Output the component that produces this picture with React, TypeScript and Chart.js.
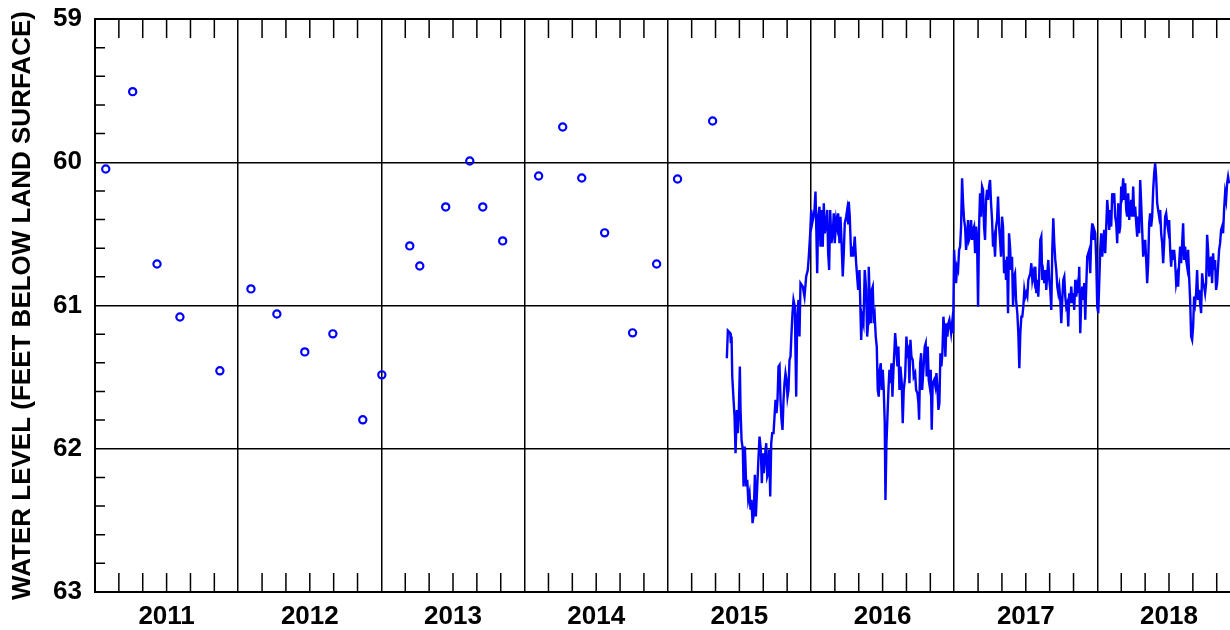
import React, { useEffect, useRef } from "react";
import { Chart, registerables } from "chart.js";

Chart.register(...registerables);

// Axis ticks
const YEAR_TICKS = [2011, 2012, 2013, 2014, 2015, 2016, 2017, 2018];
const LEVEL_TICKS = [59, 60, 61, 62, 63];
const X_MIN = 2011;
const X_MAX = 2018.926;

// Periodic (discrete) measurements, decimal year / feet below land surface
const MEAS_YEARS = [
  2011.075, 2011.263, 2011.433, 2011.593, 2011.872, 2012.089, 2012.27, 2012.465, 2012.661, 2012.87,
  2013.003, 2013.198, 2013.268, 2013.449, 2013.617, 2013.708, 2013.847, 2014.098, 2014.266, 2014.399,
  2014.559, 2014.754, 2014.922, 2015.068, 2015.313,
];
const MEAS_LEVELS = [
  60.047, 59.507, 60.71, 61.08, 61.456, 60.884, 61.059, 61.324, 61.198, 61.798,
  61.484, 60.584, 60.724, 60.312, 59.991, 60.312, 60.549, 60.096, 59.754, 60.11,
  60.493, 61.191, 60.71, 60.117, 59.712,
];

// Continuous recorder, part 1 (2015-2016)
const REC_YEARS_A = [
  2015.4124, 2015.4194, 2015.4264, 2015.4361, 2015.4403, 2015.4452, 2015.4501, 2015.4592, 2015.4662, 2015.4731,
  2015.4822, 2015.4892, 2015.4962, 2015.5032, 2015.508, 2015.515, 2015.5241, 2015.529, 2015.5381, 2015.5479,
  2015.5548, 2015.5618, 2015.5709, 2015.5778, 2015.5848, 2015.5918, 2015.6009, 2015.6079, 2015.6148, 2015.6246,
  2015.6337, 2015.6406, 2015.6497, 2015.6567, 2015.6637, 2015.6706, 2015.6804, 2015.6874, 2015.6944, 2015.7013,
  2015.7083, 2015.7153, 2015.7223, 2015.7292, 2015.7383, 2015.7453, 2015.7523, 2015.7592, 2015.7662, 2015.7732,
  2015.7802, 2015.7871, 2015.7941, 2015.8011, 2015.8081, 2015.815, 2015.822, 2015.829, 2015.836, 2015.8429,
  2015.8499, 2015.8569, 2015.8639, 2015.8708, 2015.8778, 2015.8869, 2015.8967, 2015.9036, 2015.9127, 2015.9197,
  2015.9267, 2015.9427, 2015.9546, 2015.9664, 2015.9776, 2015.9846, 2015.9944, 2016.0013, 2016.0083, 2016.0174,
  2016.0244, 2016.0313, 2016.0362, 2016.0432, 2016.0502, 2016.0592, 2016.0662, 2016.0732, 2016.0823, 2016.0893,
  2016.0962, 2016.106, 2016.113, 2016.1199, 2016.1269, 2016.1339, 2016.143, 2016.1521, 2016.159, 2016.166,
  2016.1758, 2016.1828, 2016.1897, 2016.1988, 2016.2058, 2016.2128, 2016.2218, 2016.2288, 2016.2358, 2016.2456,
  2016.2525, 2016.2595, 2016.2637, 2016.2707, 2016.2804, 2016.2874, 2016.2944, 2016.3056, 2016.3153, 2016.3223,
  2016.3293,
];
const REC_LEVELS_A = [
  61.368, 61.175, 61.182, 61.193, 61.263, 61.217, 61.496, 61.659, 61.775, 62.031,
  61.729, 61.891, 61.729, 61.426, 61.729, 61.938, 62.008, 62.264, 61.985, 62.264,
  62.217, 62.357, 62.31, 62.426, 62.357, 62.519, 62.449, 62.182, 62.473, 62.264,
  62.054, 61.915, 62.008, 62.24, 62.031, 62.17, 62.031, 61.961, 62.194, 62.17,
  62.008, 62.334, 61.961, 61.891, 61.891, 61.775, 61.659, 61.752, 61.659, 61.426,
  61.415, 61.659, 61.798, 61.868, 61.659, 61.542, 61.472, 61.519, 61.636, 61.589,
  61.38, 61.357, 61.193, 61.054, 60.961, 61.008, 61.636, 61.078, 60.961, 61.217,
  60.844, 60.868, 60.938, 60.798, 60.752, 60.659, 60.496, 60.333, 60.426, 60.38,
  60.333, 60.205, 60.426, 60.775, 60.38, 60.31, 60.589, 60.333, 60.589, 60.286,
  60.496, 60.426, 60.333, 60.635, 60.752, 60.333, 60.565, 60.496, 60.356, 60.565,
  60.403, 60.449, 60.356, 60.565, 60.38, 60.542, 60.798, 60.635, 60.426, 60.38,
  60.333, 60.426, 60.275, 60.38, 60.659, 60.589, 60.659, 60.519, 60.705, 60.798,
  60.891,
];

// Continuous recorder, part 2 (2016)
const REC_YEARS_B = [
  2016.3384, 2016.3503, 2016.3573, 2016.3663, 2016.3754, 2016.3852, 2016.3922, 2016.3991, 2016.4033, 2016.4103,
  2016.4173, 2016.4243, 2016.4313, 2016.4382, 2016.4452, 2016.4522, 2016.4592, 2016.4662, 2016.4731, 2016.4801,
  2016.4871, 2016.4941, 2016.5011, 2016.508, 2016.515, 2016.5199, 2016.5269, 2016.5339, 2016.5408, 2016.5478,
  2016.5548, 2016.5618, 2016.5687, 2016.5757, 2016.5827, 2016.5876, 2016.5967, 2016.6036, 2016.6106, 2016.6176,
  2016.6246, 2016.6337, 2016.6406, 2016.6476, 2016.6574, 2016.6664, 2016.6734, 2016.6804, 2016.6874, 2016.6944,
  2016.7013, 2016.7104, 2016.7174, 2016.7272, 2016.7341, 2016.7432, 2016.7502, 2016.7551, 2016.7621, 2016.769,
  2016.776, 2016.7851, 2016.7941, 2016.8011, 2016.8081, 2016.8151, 2016.8221, 2016.829, 2016.836, 2016.843,
  2016.85, 2016.8597, 2016.8688, 2016.8758, 2016.8827, 2016.8897, 2016.8967, 2016.9037, 2016.9106, 2016.9176,
  2016.9246, 2016.9316, 2016.9385, 2016.9455, 2016.9525, 2016.9595,
];
const REC_LEVELS_B = [
  60.752, 61.24, 61.078, 61.124, 60.752, 60.891, 61.217, 61.124, 60.729, 60.961,
  61.124, 60.891, 60.868, 61.124, 61.078, 61.217, 61.287, 61.589, 61.636, 61.449,
  61.403, 61.589, 61.449, 61.589, 61.821, 62.357, 61.961, 61.775, 61.589, 61.449,
  61.542, 61.403, 61.636, 61.449, 61.31, 61.193, 61.31, 61.426, 61.287, 61.589,
  61.426, 61.542, 61.821, 61.589, 61.496, 61.217, 61.333, 61.31, 61.542, 61.24,
  61.357, 61.38, 61.496, 61.472, 61.589, 61.612, 61.682, 61.798, 61.403, 61.333,
  61.589, 61.449, 61.287, 61.263, 61.496, 61.287, 61.519, 61.566, 61.449, 61.868,
  61.542, 61.519, 61.566, 61.472, 61.566, 61.729, 61.682, 61.333, 61.426, 61.333,
  61.078, 61.17, 61.357, 61.124, 61.217, 61.124,
];

// Continuous recorder, part 3 (2017 - 2018)
const REC_YEARS_C = [
  2016.9665, 2016.9784, 2016.9853, 2016.9923, 2016.9993, 2017.0063, 2017.0133, 2017.0202, 2017.0272, 2017.0342,
  2017.0412, 2017.0481, 2017.0551, 2017.0621, 2017.0691, 2017.076, 2017.083, 2017.09, 2017.097, 2017.1039,
  2017.1109, 2017.1179, 2017.1249, 2017.1318, 2017.1388, 2017.1458, 2017.1528, 2017.1597, 2017.1667, 2017.1737,
  2017.1807, 2017.1876, 2017.1946, 2017.2016, 2017.2086, 2017.2155, 2017.2225, 2017.2295, 2017.2365, 2017.2434,
  2017.2504, 2017.2574, 2017.2644, 2017.2713, 2017.2783, 2017.2853, 2017.2923, 2017.2992, 2017.3062, 2017.3132,
  2017.3202, 2017.3271, 2017.3341, 2017.3411, 2017.3481, 2017.355, 2017.362, 2017.369, 2017.376, 2017.3829,
  2017.3899, 2017.3969, 2017.4039, 2017.4108, 2017.4178, 2017.4248, 2017.4318,
  2017.4408, 2017.4478, 2017.4548, 2017.4618, 2017.4688, 2017.4757, 2017.4827, 2017.4897, 2017.4967, 2017.5036,
  2017.5106, 2017.5176, 2017.5246, 2017.5315, 2017.5385, 2017.5455, 2017.5525, 2017.5594, 2017.5664, 2017.5734,
  2017.5804, 2017.5873, 2017.5943, 2017.6013, 2017.6083, 2017.6152, 2017.6222, 2017.6292, 2017.6362, 2017.6431,
  2017.6501, 2017.6571, 2017.6641, 2017.671, 2017.678, 2017.685, 2017.692, 2017.6989, 2017.7059, 2017.7129,
  2017.7199, 2017.7268, 2017.7338, 2017.7408, 2017.7478, 2017.7547, 2017.7617, 2017.7687, 2017.7757, 2017.7826,
  2017.7896, 2017.7966, 2017.8036, 2017.8105, 2017.8175, 2017.8245, 2017.8315, 2017.8384, 2017.8454, 2017.8524,
  2017.8594, 2017.8663, 2017.8733, 2017.8803, 2017.8873, 2017.8942, 2017.9012, 2017.9082, 2017.9152, 2017.9221,
  2017.9291, 2017.9361, 2017.9431, 2017.95, 2017.957, 2017.964, 2017.971, 2017.978, 2017.9849, 2017.9919,
  2017.9989, 2018.0059, 2018.0128, 2018.0198, 2018.0268, 2018.0338, 2018.0407, 2018.0477, 2018.0547, 2018.0617,
  2018.0686, 2018.0756, 2018.0826, 2018.0896, 2018.0965, 2018.1035, 2018.1105, 2018.1175, 2018.1244, 2018.1314,
  2018.1384, 2018.1454, 2018.1523, 2018.1593, 2018.1663, 2018.1733, 2018.1802, 2018.1872, 2018.1942, 2018.2012,
  2018.2081, 2018.2151, 2018.2221, 2018.2291, 2018.236, 2018.243, 2018.25, 2018.257, 2018.264, 2018.2709,
  2018.2779, 2018.2849, 2018.2919, 2018.2988, 2018.3058, 2018.3128, 2018.3198, 2018.3267, 2018.3337, 2018.3407,
  2018.3477, 2018.3546, 2018.3616, 2018.3686, 2018.3756, 2018.3825, 2018.3895, 2018.3965, 2018.4035, 2018.4104,
  2018.4174, 2018.4244, 2018.4314, 2018.4383, 2018.4453, 2018.4523, 2018.4593, 2018.4662, 2018.4732, 2018.4802,
  2018.4872, 2018.4941, 2018.5011, 2018.5081, 2018.5151, 2018.522, 2018.529, 2018.536, 2018.543, 2018.5499,
  2018.5569, 2018.5639, 2018.5709, 2018.5778, 2018.5848, 2018.5918, 2018.5988, 2018.6057, 2018.6127, 2018.6197,
  2018.6267, 2018.6336, 2018.6406, 2018.6476, 2018.6546, 2018.6615, 2018.6685, 2018.6755, 2018.6825, 2018.6894,
  2018.6964, 2018.7034, 2018.7104, 2018.7173, 2018.7243, 2018.7313, 2018.7383, 2018.7452, 2018.7522, 2018.7592,
  2018.7662, 2018.7731, 2018.7801, 2018.7871, 2018.7941, 2018.801, 2018.808, 2018.815, 2018.822, 2018.8289,
  2018.8359, 2018.8429, 2018.8499, 2018.8568, 2018.8638, 2018.8708, 2018.8778, 2018.8847, 2018.8917, 2018.8987,
  2018.9057, 2018.9126, 2018.9196,
];
const REC_LEVELS_C = [
  61.1, 61.193, 61.124, 61.193, 60.612, 60.752, 60.844, 60.729, 60.752, 60.612,
  60.589, 60.449, 60.112, 60.286, 60.403, 60.449, 60.612, 60.542, 60.403, 60.542,
  60.519, 60.403, 60.542, 60.472, 60.449, 60.635, 60.449, 60.542, 61.008, 60.449,
  60.216, 60.38, 60.17, 60.193, 60.449, 60.542, 60.263, 60.193, 60.263, 60.17,
  60.124, 60.286, 60.403, 60.589, 60.542, 60.659, 60.449, 60.403, 60.24, 60.449,
  60.542, 60.659, 60.38, 60.449, 60.775, 60.682, 60.821, 60.659, 61.054, 60.496,
  60.589, 60.752, 60.659, 61.008, 60.798, 60.775, 60.961,
  61.054, 61.193, 61.438, 61.193, 61.078, 61.078, 61.008, 60.891, 60.938, 60.914,
  60.938, 60.821, 60.798, 60.775, 60.705, 60.821, 60.775, 60.821, 60.729, 60.914,
  60.821, 60.938, 60.775, 60.542, 60.519, 60.821, 60.775, 60.844, 60.752, 60.891,
  60.775, 60.682, 60.821, 60.891, 61.031, 60.612, 60.391, 60.565, 60.682, 60.752,
  60.868, 60.914, 60.868, 60.961, 61.124, 60.961, 60.821, 60.798, 60.938, 61.008,
  60.984, 61.147, 60.914, 60.984, 60.868, 60.984, 60.914, 61.031, 60.821, 60.938,
  60.868, 60.914, 60.729, 61.193, 60.961, 60.868, 60.961, 60.844, 61.1, 60.868,
  60.659, 60.635, 60.612, 60.775, 60.519, 60.426, 60.542, 60.472, 60.496, 60.682,
  61.008, 61.054, 60.844, 60.612, 60.496, 60.659, 60.565, 60.472, 60.635, 60.449,
  60.263, 60.356, 60.472, 60.333, 60.449, 60.216, 60.286, 60.216, 60.38, 60.426,
  60.565, 60.286, 60.496, 60.449, 60.17, 60.216, 60.112, 60.263, 60.147, 60.333,
  60.38, 60.216, 60.403, 60.333, 60.263, 60.38, 60.17, 60.38, 60.31, 60.426,
  60.519, 60.38, 60.496, 60.124, 60.286, 60.472, 60.659, 60.589, 60.542, 60.682,
  60.844, 60.705, 60.426, 60.356, 60.449, 60.38, 60.193, 60.077, 60.007, 60.101,
  60.286, 60.333, 60.38, 60.333, 60.496, 60.565, 60.705, 60.565, 60.38, 60.356,
  60.426, 60.472, 60.403, 60.612, 60.729, 60.612, 60.682, 60.612, 60.705, 60.844,
  60.798, 60.868, 60.705, 60.589, 60.705, 60.565, 60.426, 60.682, 60.589, 60.682,
  60.729, 60.612, 60.798, 60.961, 61.217, 61.24, 61.147, 60.938, 60.984, 60.914,
  60.752, 60.961, 60.891, 60.984, 61.054, 60.775, 60.844, 60.868, 60.914, 60.844,
  60.507, 60.612, 60.798, 60.705, 60.659, 60.844, 60.635, 60.752, 60.682, 60.891,
  60.844, 60.729, 60.612, 60.565, 60.472, 60.449, 60.496, 60.333, 60.216, 60.263,
  60.147, 60.101, 60.147,
];

const Y_TITLE = "WATER LEVEL (FEET BELOW LAND SURFACE)";
const FONT_FAMILY = '"Liberation Sans", Arial, Helvetica, sans-serif';
const BLUE = "#0000ff";

const zip = (xs: number[], ys: number[]) => xs.map((x, i) => ({ x, y: ys[i] }));

const frameAndMinorTicks = {
  id: "frameAndMinorTicks",
  beforeDatasetsDraw(chart: any) {
    const { ctx, chartArea: a, scales } = chart;
    const x = scales.x;
    const y = scales.y;
    ctx.save();
    ctx.strokeStyle = "#000";
    ctx.lineWidth = 2;
    ctx.beginPath();
    ctx.moveTo(a.left, a.top);
    ctx.lineTo(a.right, a.top);
    ctx.stroke();
    ctx.lineWidth = 1.5;
    ctx.beginPath();
    for (const yr of YEAR_TICKS) {
      for (let k = 1; k < 6; k++) {
        const v = yr + k / 6;
        if (v > x.max) continue;
        const px = x.getPixelForValue(v);
        ctx.moveTo(px, a.top);
        ctx.lineTo(px, a.top + 19);
        ctx.moveTo(px, a.bottom);
        ctx.lineTo(px, a.bottom - 19);
      }
    }
    for (const lv of LEVEL_TICKS) {
      for (let k = 1; k < 5; k++) {
        const v = lv + k * 0.2;
        if (v >= y.max) continue;
        const py = y.getPixelForValue(v);
        ctx.moveTo(a.left, py);
        ctx.lineTo(a.left + 10, py);
      }
    }
    ctx.stroke();
    ctx.restore();
  },
};

const zeroPadding = (scale: any) => {
  scale.paddingTop = 0;
  scale.paddingBottom = 0;
  scale.paddingLeft = 0;
  scale.paddingRight = 0;
};

export default function App() {
  const ref = useRef<HTMLCanvasElement | null>(null);

  useEffect(() => {
    document.body.style.margin = "0";
    const canvas = ref.current;
    if (!canvas) return;
    const tickFont = { family: FONT_FAMILY, size: 26, weight: "bold" as const };
    const chart = new Chart(canvas, {
      type: "scatter",
      data: {
        datasets: [
          {
            label: "Recorder",
            data: [
              ...zip(REC_YEARS_A, REC_LEVELS_A),
              ...zip(REC_YEARS_B, REC_LEVELS_B),
              ...zip(REC_YEARS_C, REC_LEVELS_C),
            ],
            showLine: true,
            borderColor: BLUE,
            borderWidth: 2.4,
            pointRadius: 0,
            tension: 0,
            fill: false,
          },
          {
            label: "Measurements",
            data: zip(MEAS_YEARS, MEAS_LEVELS),
            showLine: false,
            pointStyle: "circle",
            pointRadius: 3.6,
            pointBorderWidth: 2.2,
            pointBorderColor: BLUE,
            pointBackgroundColor: "rgba(0,0,0,0)",
            borderColor: BLUE,
          },
        ],
      },
      options: {
        responsive: false,
        animation: false,
        layout: { autoPadding: false, padding: { top: 19, right: 0, left: 0, bottom: 0 } },
        plugins: {
          legend: { display: false },
          tooltip: { enabled: false },
        },
        scales: {
          x: {
            type: "linear",
            min: X_MIN,
            max: X_MAX,
            afterBuildTicks: (scale: any) => {
              scale.ticks = YEAR_TICKS.map((v) => ({ value: v }));
            },
            afterFit: (scale: any) => {
              scale.height = 38;
              zeroPadding(scale);
            },
            ticks: {
              autoSkip: false,
              maxRotation: 0,
              minRotation: 0,
              labelOffset: 71.6,
              padding: 9,
              color: "#000",
              font: tickFont,
              callback: (v: any) => String(v),
            },
            grid: { color: "#000", lineWidth: 1.5, drawTicks: false },
            border: { color: "#000", width: 2 },
          },
          y: {
            type: "linear",
            reverse: true,
            min: 59,
            max: 63,
            afterBuildTicks: (scale: any) => {
              scale.ticks = LEVEL_TICKS.map((v) => ({ value: v }));
            },
            afterFit: (scale: any) => {
              scale.width = 95;
              zeroPadding(scale);
            },
            ticks: {
              padding: 13,
              color: "#000",
              font: tickFont,
              callback: (v: any) => String(v),
            },
            grid: { color: "#000", lineWidth: 1.5, drawTicks: false },
            border: { color: "#000", width: 2 },
            title: {
              display: true,
              text: Y_TITLE,
              color: "#000",
              font: { family: FONT_FAMILY, size: 26, weight: "bold" as const },
              padding: { top: 7, bottom: 0 },
            },
          },
        },
      },
      plugins: [frameAndMinorTicks],
    });
    return () => chart.destroy();
  }, []);

  return (
    <div style={{ width: 1230, height: 630, background: "#fff" }}>
      <canvas ref={ref} width={1230} height={630} style={{ display: "block", width: 1230, height: 630 }} />
    </div>
  );
}
